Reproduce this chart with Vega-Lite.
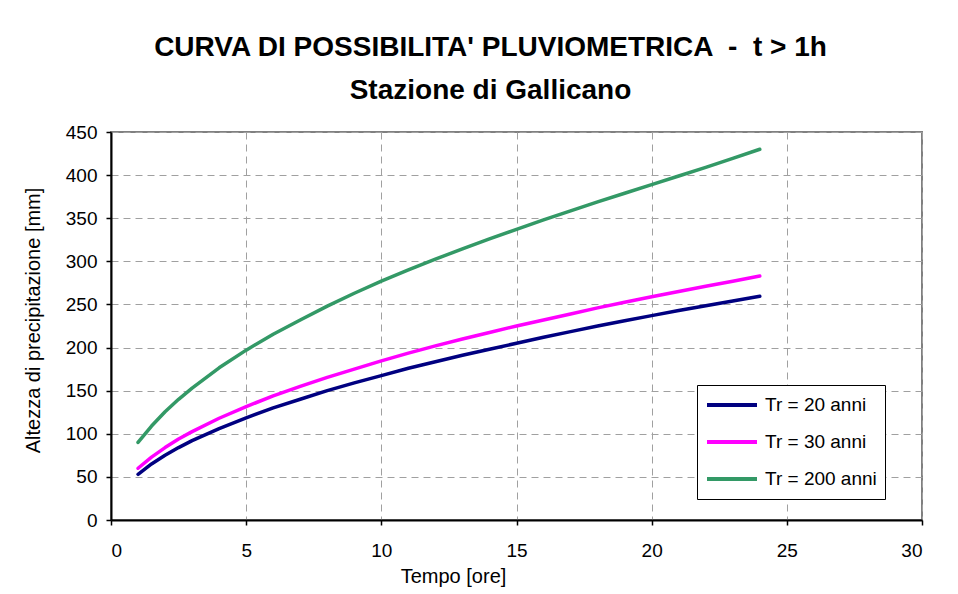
{
  "$schema": "https://vega.github.io/schema/vega-lite/v6.json",
  "width": 811,
  "height": 388,
  "autosize": "none",
  "padding": {"left": 111, "top": 132, "right": 36, "bottom": 74},
  "background": "white",
  "title": {
    "text": ["CURVA DI POSSIBILITA' PLUVIOMETRICA \u00a0-\u00a0 t > 1h", "Stazione di Gallicano"],
    "font": "Liberation Sans",
    "fontSize": 28,
    "fontWeight": "bold",
    "color": "black",
    "anchor": "middle",
    "dx": -26,
    "lineHeight": 43,
    "offset": 18
  },
  "data": {"values": [
    {"t": 1, "h": 53, "s": "Tr = 20 anni"},
    {"t": 1.5, "h": 65, "s": "Tr = 20 anni"},
    {"t": 2, "h": 75, "s": "Tr = 20 anni"},
    {"t": 2.5, "h": 84, "s": "Tr = 20 anni"},
    {"t": 3, "h": 92, "s": "Tr = 20 anni"},
    {"t": 4, "h": 106, "s": "Tr = 20 anni"},
    {"t": 5, "h": 118.5, "s": "Tr = 20 anni"},
    {"t": 6, "h": 130, "s": "Tr = 20 anni"},
    {"t": 7, "h": 140, "s": "Tr = 20 anni"},
    {"t": 8, "h": 150, "s": "Tr = 20 anni"},
    {"t": 9, "h": 159, "s": "Tr = 20 anni"},
    {"t": 10, "h": 167.5, "s": "Tr = 20 anni"},
    {"t": 11, "h": 176, "s": "Tr = 20 anni"},
    {"t": 12, "h": 183.5, "s": "Tr = 20 anni"},
    {"t": 13, "h": 191, "s": "Tr = 20 anni"},
    {"t": 14, "h": 198, "s": "Tr = 20 anni"},
    {"t": 15, "h": 205, "s": "Tr = 20 anni"},
    {"t": 16, "h": 212, "s": "Tr = 20 anni"},
    {"t": 17, "h": 218.5, "s": "Tr = 20 anni"},
    {"t": 18, "h": 225, "s": "Tr = 20 anni"},
    {"t": 19, "h": 231, "s": "Tr = 20 anni"},
    {"t": 20, "h": 237, "s": "Tr = 20 anni"},
    {"t": 21, "h": 243, "s": "Tr = 20 anni"},
    {"t": 22, "h": 248.5, "s": "Tr = 20 anni"},
    {"t": 23, "h": 254, "s": "Tr = 20 anni"},
    {"t": 24, "h": 259.5, "s": "Tr = 20 anni"},
    {"t": 1, "h": 60, "s": "Tr = 30 anni"},
    {"t": 1.5, "h": 73, "s": "Tr = 30 anni"},
    {"t": 2, "h": 84, "s": "Tr = 30 anni"},
    {"t": 2.5, "h": 94, "s": "Tr = 30 anni"},
    {"t": 3, "h": 102.5, "s": "Tr = 30 anni"},
    {"t": 4, "h": 118, "s": "Tr = 30 anni"},
    {"t": 5, "h": 131.5, "s": "Tr = 30 anni"},
    {"t": 6, "h": 144, "s": "Tr = 30 anni"},
    {"t": 7, "h": 155, "s": "Tr = 30 anni"},
    {"t": 8, "h": 165.5, "s": "Tr = 30 anni"},
    {"t": 9, "h": 175, "s": "Tr = 30 anni"},
    {"t": 10, "h": 184.5, "s": "Tr = 30 anni"},
    {"t": 11, "h": 193.5, "s": "Tr = 30 anni"},
    {"t": 12, "h": 202, "s": "Tr = 30 anni"},
    {"t": 13, "h": 210, "s": "Tr = 30 anni"},
    {"t": 14, "h": 217.5, "s": "Tr = 30 anni"},
    {"t": 15, "h": 225, "s": "Tr = 30 anni"},
    {"t": 16, "h": 232, "s": "Tr = 30 anni"},
    {"t": 17, "h": 239, "s": "Tr = 30 anni"},
    {"t": 18, "h": 246, "s": "Tr = 30 anni"},
    {"t": 19, "h": 252.5, "s": "Tr = 30 anni"},
    {"t": 20, "h": 259, "s": "Tr = 30 anni"},
    {"t": 21, "h": 265, "s": "Tr = 30 anni"},
    {"t": 22, "h": 271, "s": "Tr = 30 anni"},
    {"t": 23, "h": 277, "s": "Tr = 30 anni"},
    {"t": 24, "h": 283, "s": "Tr = 30 anni"},
    {"t": 1, "h": 90, "s": "Tr = 200 anni"},
    {"t": 1.5, "h": 109, "s": "Tr = 200 anni"},
    {"t": 2, "h": 125.5, "s": "Tr = 200 anni"},
    {"t": 2.5, "h": 140, "s": "Tr = 200 anni"},
    {"t": 3, "h": 153, "s": "Tr = 200 anni"},
    {"t": 4, "h": 176.5, "s": "Tr = 200 anni"},
    {"t": 5, "h": 197, "s": "Tr = 200 anni"},
    {"t": 6, "h": 215.5, "s": "Tr = 200 anni"},
    {"t": 7, "h": 232, "s": "Tr = 200 anni"},
    {"t": 8, "h": 248, "s": "Tr = 200 anni"},
    {"t": 9, "h": 263, "s": "Tr = 200 anni"},
    {"t": 10, "h": 277, "s": "Tr = 200 anni"},
    {"t": 11, "h": 290, "s": "Tr = 200 anni"},
    {"t": 12, "h": 302.5, "s": "Tr = 200 anni"},
    {"t": 13, "h": 314.5, "s": "Tr = 200 anni"},
    {"t": 14, "h": 326, "s": "Tr = 200 anni"},
    {"t": 15, "h": 337, "s": "Tr = 200 anni"},
    {"t": 16, "h": 348, "s": "Tr = 200 anni"},
    {"t": 17, "h": 358.5, "s": "Tr = 200 anni"},
    {"t": 18, "h": 369, "s": "Tr = 200 anni"},
    {"t": 19, "h": 379, "s": "Tr = 200 anni"},
    {"t": 20, "h": 389, "s": "Tr = 200 anni"},
    {"t": 21, "h": 399, "s": "Tr = 200 anni"},
    {"t": 22, "h": 409, "s": "Tr = 200 anni"},
    {"t": 23, "h": 419.5, "s": "Tr = 200 anni"},
    {"t": 24, "h": 430, "s": "Tr = 200 anni"}
  ]},
  "mark": {"type": "line", "strokeWidth": 3.5, "strokeCap": "round", "strokeJoin": "round"},
  "encoding": {
    "x": {
      "field": "t", "type": "quantitative",
      "scale": {"domain": [0, 30], "nice": false, "zero": false},
      "axis": {"values": [0, 5, 10, 15, 20, 25, 30], "title": "Tempo [ore]", "titlePadding": 6, "labelPadding": 16, "titleX": 342, "titleAlign": "center", "titleAnchor": null}
    },
    "y": {
      "field": "h", "type": "quantitative",
      "scale": {"domain": [0, 450], "nice": false},
      "axis": {"values": [0, 50, 100, 150, 200, 250, 300, 350, 400, 450], "title": "Altezza di precipitazione [mm]", "titlePadding": 22, "labelPadding": 9, "titleY": 188, "titleAlign": "center", "titleAnchor": null}
    },
    "color": {
      "field": "s", "type": "nominal",
      "scale": {"domain": ["Tr = 20 anni", "Tr = 30 anni", "Tr = 200 anni"], "range": ["#000080", "#FF00FF", "#339966"]},
      "legend": {
        "title": null,
        "orient": "none",
        "legendX": 586,
        "legendY": 253,
        "symbolType": "stroke",
        "symbolSize": 2500,
        "symbolStrokeWidth": 4,
        "clipHeight": 24,
        "labelFont": "Liberation Sans",
        "labelFontSize": 19,
        "labelColor": "black",
        "labelOffset": 6,
        "rowPadding": 13,
        "padding": 8,
        "fillColor": "white",
        "strokeColor": "black",
        "cornerRadius": 0
      }
    }
  },
  "config": {
    "font": "Liberation Sans",
    "view": {"stroke": "#808080", "strokeWidth": 2},
    "axis": {
      "domainColor": "black",
      "domainWidth": 2,
      "tickColor": "black",
      "tickSize": 5,
      "tickWidth": 1.5,
      "gridColor": "#a0a0a0",
      "gridDash": [7, 5],
      "gridWidth": 1,
      "labelFont": "Liberation Sans",
      "labelFontSize": 19,
      "labelColor": "black",
      "titleFont": "Liberation Sans",
      "titleFontSize": 20,
      "titleFontWeight": "normal",
      "titleColor": "black"
    }
  }
}
